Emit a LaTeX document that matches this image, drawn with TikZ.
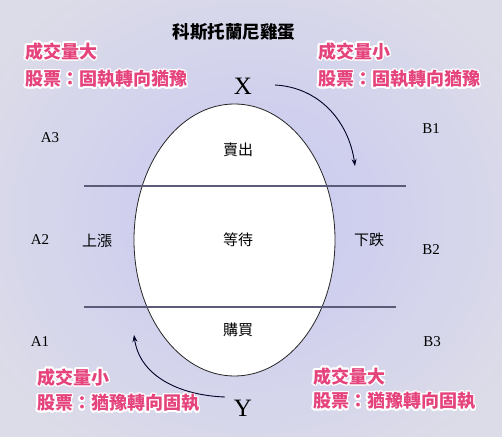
\documentclass[tikz,border=0pt]{standalone}
\usepackage{fontspec}
\usepackage[copies]{contour}
\usetikzlibrary{arrows.meta}
\newfontfamily\cjk{Noto Sans CJK TC}
\newfontfamily\latserif{Liberation Serif}
\definecolor{pinkc}{HTML}{E5437B}
\definecolor{bgedge}{HTML}{DCDCE8}
\definecolor{bgmid}{HTML}{C8C8F2}
\definecolor{sepline}{HTML}{5C5C7A}
\contourlength{1.6pt}
\newcommand{\pinktext}[1]{\contour{white}{\textcolor{pinkc}{#1}}}
\tikzset{
  pinklabel/.style={anchor=west, inner sep=0pt, font=\cjk\bfseries\fontsize{18}{18}\selectfont},
  cjklabel/.style={inner sep=0pt, font=\cjk\fontsize{15}{15}\selectfont},
  latlabel/.style={inner sep=0pt, font=\latserif\fontsize{15}{15}\selectfont},
  biglat/.style={inner sep=0pt, font=\latserif\fontsize{25}{25}\selectfont},
  sep/.style={draw=sepline, line width=1.1pt},
  curvearrow/.style={draw=black!85!blue, line width=0.9pt, -{Stealth[length=7pt,width=5pt]}}
}
\begin{document}
\begin{tikzpicture}[x=1pt,y=1pt]
\useasboundingbox (0,0) rectangle (502,436);
\shade[inner color=bgmid, outer color=bgedge] (-60,-60) rectangle (562,496);
% egg
\fill[white] (234.5,196) ellipse [x radius=100.5, y radius=136];
\draw[black!85, line width=0.8pt] (234.5,196) ellipse [x radius=100.5, y radius=136];
% separators
\coordinate (l1a) at (84,250); \coordinate (l1b) at (406,250);
\coordinate (l2a) at (84,129); \coordinate (l2b) at (396,129);
\draw[sep] (l1a) -- (l1b);
\draw[sep] (l2a) -- (l2b);
% title
\node[inner sep=0pt, font=\cjk\bfseries\fontsize{17.5}{17.5}\selectfont] (title) at (234,404) {科斯托蘭尼雞蛋};
% pink labels
\node[pinklabel] (tl1) at (25,384) {\pinktext{成交量大}};
\node[pinklabel] (tl2) at (25,356) {\pinktext{股票：固執轉向猶豫}};
\node[pinklabel] (tr1) at (318,384) {\pinktext{成交量小}};
\node[pinklabel] (tr2) at (318,356) {\pinktext{股票：固執轉向猶豫}};
\node[pinklabel] (bl1) at (37,58) {\pinktext{成交量小}};
\node[pinklabel] (bl2) at (37,32) {\pinktext{股票：猶豫轉向固執}};
\node[pinklabel] (br1) at (313,59) {\pinktext{成交量大}};
\node[pinklabel] (br2) at (313,34) {\pinktext{股票：猶豫轉向固執}};
% X and Y
\node[biglat] (X) at (243,350) {X};
\node[biglat] (Y) at (243,28) {Y};
% region labels
\node[latlabel] (A3) at (50,298) {A3};
\node[latlabel] (B1) at (431,307) {B1};
\node[latlabel] (A2) at (40,196) {A2};
\node[latlabel] (B2) at (431,186) {B2};
\node[latlabel] (A1) at (40,94) {A1};
\node[latlabel] (B3) at (432,94) {B3};
\node[cjklabel] (sell) at (238,286) {賣出};
\node[cjklabel] (wait) at (238,196) {等待};
\node[cjklabel] (buy) at (238,106) {購買};
\node[cjklabel] (up) at (97,195) {上漲};
\node[cjklabel] (down) at (369,196) {下跌};
% arrows
\coordinate (xa) at (275,351); \coordinate (xb) at (355,270);
\coordinate (ya) at (225,39); \coordinate (yb) at (134,101);
\draw[curvearrow] (xa) to[out=-3, in=98] (xb);
\draw[curvearrow] (ya) to[out=178, in=-82] (yb);
\end{tikzpicture}
\end{document}
